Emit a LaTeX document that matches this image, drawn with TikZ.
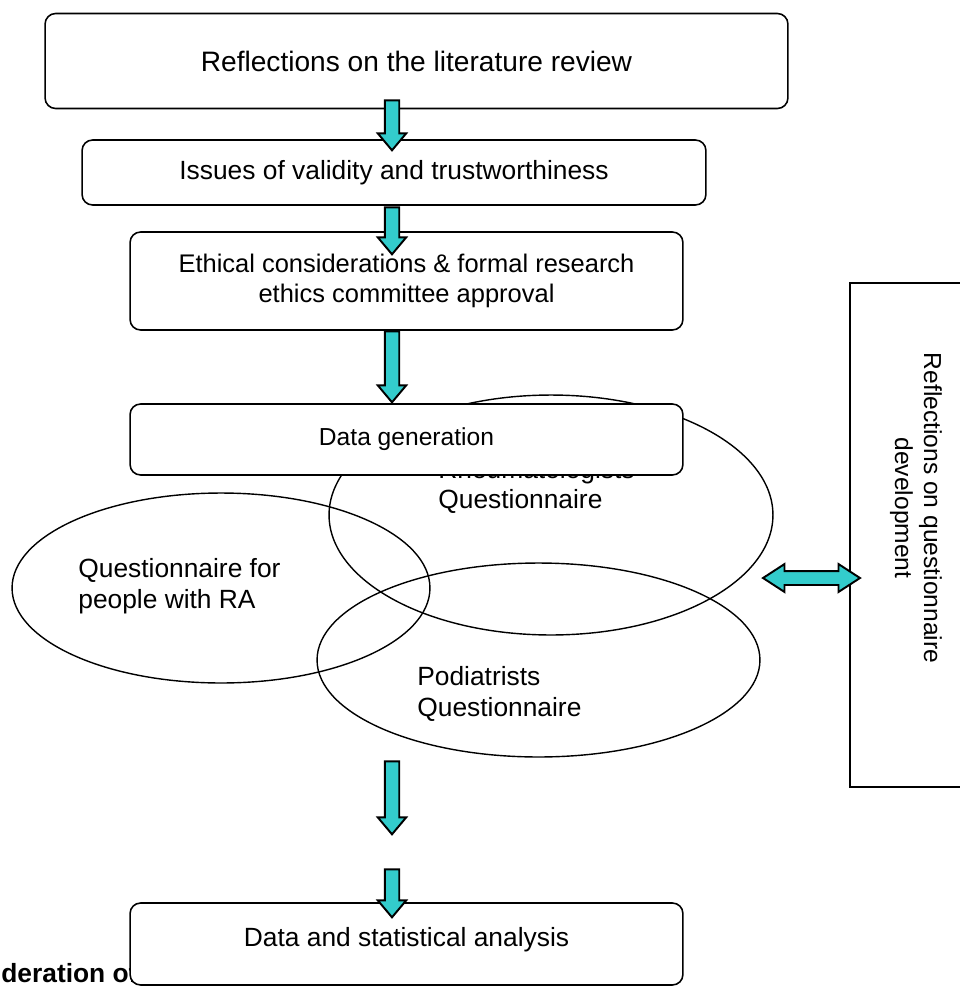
\documentclass[tikz,border=0pt]{standalone}
\usepackage{fontspec}
\setmainfont{Liberation Sans}
\usetikzlibrary{shapes.geometric, shapes.arrows, positioning}
\definecolor{arrfill}{RGB}{51,204,204}
\tikzset{
  box/.style={draw, rounded corners=6pt, fill=white, line width=0.9pt, align=center, inner sep=0pt},
  blk/.style={single arrow, draw, fill=arrfill, line width=1.1pt, shape border rotate=270,
    inner sep=0.125cm, minimum width=0.52cm, single arrow head extend=0.14cm, single arrow tip angle=80},
  dblk/.style={double arrow, draw, fill=arrfill, line width=1.1pt,
    inner sep=0.12cm, minimum width=0.52cm, double arrow head extend=0.14cm, double arrow tip angle=66},
  oval/.style={ellipse, draw, line width=0.8pt, inner sep=0pt},
  lbl/.style={align=left, inner sep=0pt},
}

\begin{document}
\begin{tikzpicture}[x=0.02cm, y=-0.02cm, font=\fontsize{15}{17.5}\selectfont]
  \path[use as bounding box, clip] (0,0) rectangle (960,991);

  % top of the flow
  \node[box, minimum width=14.86cm, minimum height=1.9cm, font=\fontsize{16}{18}\selectfont] (lit) at (416.5,61) {Reflections on the literature review};
  \node[box, minimum width=12.48cm, minimum height=1.3cm] (valid) at (394,172.5) {Issues of validity and trustworthiness};
  \node[box, minimum width=11.06cm, minimum height=1.96cm, font=\fontsize{14.5}{17.5}\selectfont] (ethics) at (406.5,281) {Ethical considerations \& formal research\\ethics committee approval};
  \node[blk, minimum height=1.0cm] (a1) at (392,121) {};
  \node[blk, minimum height=0.94cm] (a2) at (392,226.5) {};

  % the three questionnaires
  \node[oval, minimum width=8.88cm, minimum height=4.8cm] (rheum) at (551,515) {};
  \node[lbl, anchor=base west] (rheumA) at (438,478) {Rheumatologists};
  \node[lbl, anchor=base west] (rheumB) at (438,508) {Questionnaire};
  \node[oval, minimum width=8.36cm, minimum height=3.8cm] (ra) at (221,588) {};
  \node[lbl, anchor=west] (ratxt) at (78,586) {Questionnaire for\\people with RA};
  \node[oval, minimum width=8.86cm, minimum height=3.88cm] (pod) at (538.5,660) {};
  \node[lbl, anchor=west] (podtxt) at (417,694) {Podiatrists\\Questionnaire};

  \node[box, minimum width=11.06cm, minimum height=1.42cm, font=\fontsize{14}{17}\selectfont] (gen) at (406.5,439.5) {Data generation};
  \node[blk, minimum height=1.42cm] (a3) at (392,362.5) {};

  % side box
  \node[draw, line width=0.9pt, minimum width=2.8cm, minimum height=10.08cm] (refl) at (920,535) {};
  \node[rotate=-90, align=center, font=\fontsize{14}{16.5}\selectfont] (refltxt) at (916,508) {Reflections on questionnaire\\development};
  \node[dblk, minimum height=1.94cm] (a6) at (811.5,578) {};

  % bottom
  \node[lbl, anchor=base west, font=\fontsize{15}{17.5}\selectfont\bfseries] (cut) at (1,982) {deration of};
  \node[box, minimum width=11.06cm, minimum height=1.64cm, text depth=0.3cm] (stats) at (406.5,944) {Data and statistical analysis};
  \node[blk, minimum height=1.46cm] (a4) at (392,793.5) {};
  \node[blk, minimum height=0.96cm] (a5) at (392,889) {};
\end{tikzpicture}
\end{document}
